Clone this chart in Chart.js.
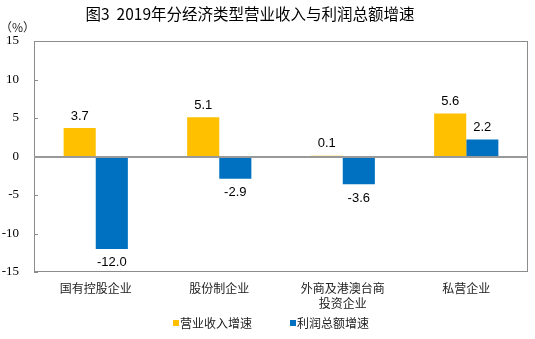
<!DOCTYPE html>
<html>
<head>
<meta charset="utf-8">
<script src="https://cdn.jsdelivr.net/npm/chart.js@4/dist/chart.umd.min.js"></script>
<style>
  html, body { margin: 0; padding: 0; background: #fff; }
  #wrap { width: 535px; height: 339px; position: relative; }
</style>
</head>
<body>
<div id="wrap"><canvas id="chart"></canvas></div>
<script>
// chart data
const categories = ['国有控股企业', '股份制企业', ['外商及港澳台商', '投资企业'], '私营企业'];
const revenueGrowth = [3.7, 5.1, 0.1, 5.6];
const profitGrowth = [-12.0, -2.9, -3.6, 2.2];
const yTicks = [-15, -10, -5, 0, 5, 10, 15];
const seriesNames = ['营业收入增速', '利润总额增速'];

const CJK = '"Noto Sans CJK SC", sans-serif';

// title, frame, inward ticks, value labels and legend
const decorPlugin = {
    id: 'decor',
    afterDraw(chart) {
        const ctx = chart.ctx;
        const area = chart.chartArea;
        const y = chart.scales.y;
        ctx.save();

        // title
        ctx.fillStyle = '#000';
        ctx.font = '15.5px ' + CJK;
        ctx.textAlign = 'center';
        ctx.textBaseline = 'middle';
        ctx.fillText('图3  2019年分经济类型营业收入与利润总额增速', 250, 14);

        // unit
        ctx.font = '12px ' + CJK;
        ctx.textAlign = 'left';
        ctx.fillStyle = '#222';
        ctx.fillText('（%）', 0, 27);

        // plot frame
        ctx.strokeStyle = '#8c8c8c';
        ctx.lineWidth = 1;
        ctx.strokeRect(area.left + 0.5, area.top + 0.5, area.right - area.left - 1, area.bottom - area.top - 1);

        // inward tick marks
        yTicks.forEach(v => {
            const py = Math.round(y.getPixelForValue(v)) + 0.5;
            ctx.beginPath();
            ctx.moveTo(area.left, py);
            ctx.lineTo(area.left + 4, py);
            ctx.stroke();
        });

        // zero line
        const zy = Math.round(y.getPixelForValue(0));
        ctx.strokeStyle = '#999';
        ctx.lineWidth = 2;
        ctx.beginPath();
        ctx.moveTo(area.left, zy);
        ctx.lineTo(area.right, zy);
        ctx.stroke();

        // value labels
        ctx.fillStyle = '#000';
        ctx.font = '13px "Liberation Sans", Arial, sans-serif';
        ctx.textAlign = 'center';
        ctx.textBaseline = 'middle';
        chart.data.datasets.forEach((ds, di) => {
            chart.getDatasetMeta(di).data.forEach((bar, i) => {
                const v = ds.data[i];
                const ly = v >= 0 ? bar.y - 12 : bar.y + 14;
                ctx.fillText(v.toFixed(1), bar.x, ly);
            });
        });

        // legend
        const legendX = [173, 290];
        ctx.font = '12px ' + CJK;
        ctx.textAlign = 'left';
        chart.data.datasets.forEach((ds, di) => {
            ctx.fillStyle = ds.backgroundColor;
            ctx.fillRect(legendX[di], 320, 6, 6);
            ctx.fillStyle = '#222';
            ctx.fillText(ds.label, legendX[di] + 7, 323);
        });
        ctx.restore();
    }
};

new Chart(document.getElementById('chart'), {
    type: 'bar',
    data: {
        labels: categories,
        datasets: [
            { label: seriesNames[0], data: revenueGrowth, backgroundColor: '#ffc000', borderWidth: 0 },
            { label: seriesNames[1], data: profitGrowth, backgroundColor: '#0070c0', borderWidth: 0 }
        ]
    },
    options: {
        responsive: true,
        maintainAspectRatio: false,
        animation: false,
        categoryPercentage: 0.52,
        barPercentage: 1.0,
        layout: { padding: { top: 41, right: 7, left: 0, bottom: 25 } },
        scales: {
            x: {
                grid: { display: false, drawTicks: false },
                border: { display: false },
                ticks: { color: '#222', font: { family: CJK, size: 12, lineHeight: 1.25 }, padding: 9, maxRotation: 0 },
                afterFit(scale) { scale.height = 42; }
            },
            y: {
                min: -15,
                max: 15,
                afterBuildTicks(scale) { scale.ticks = yTicks.map(v => ({ value: v })); },
                grid: { display: false, drawTicks: false },
                border: { display: false },
                ticks: { color: '#000', font: { family: '"Liberation Serif", serif', size: 13 }, padding: 15 },
                afterFit(scale) { scale.width = 34; }
            }
        },
        plugins: {
            legend: { display: false },
            tooltip: { enabled: false }
        }
    },
    plugins: [decorPlugin]
});
</script>
</body>
</html>
